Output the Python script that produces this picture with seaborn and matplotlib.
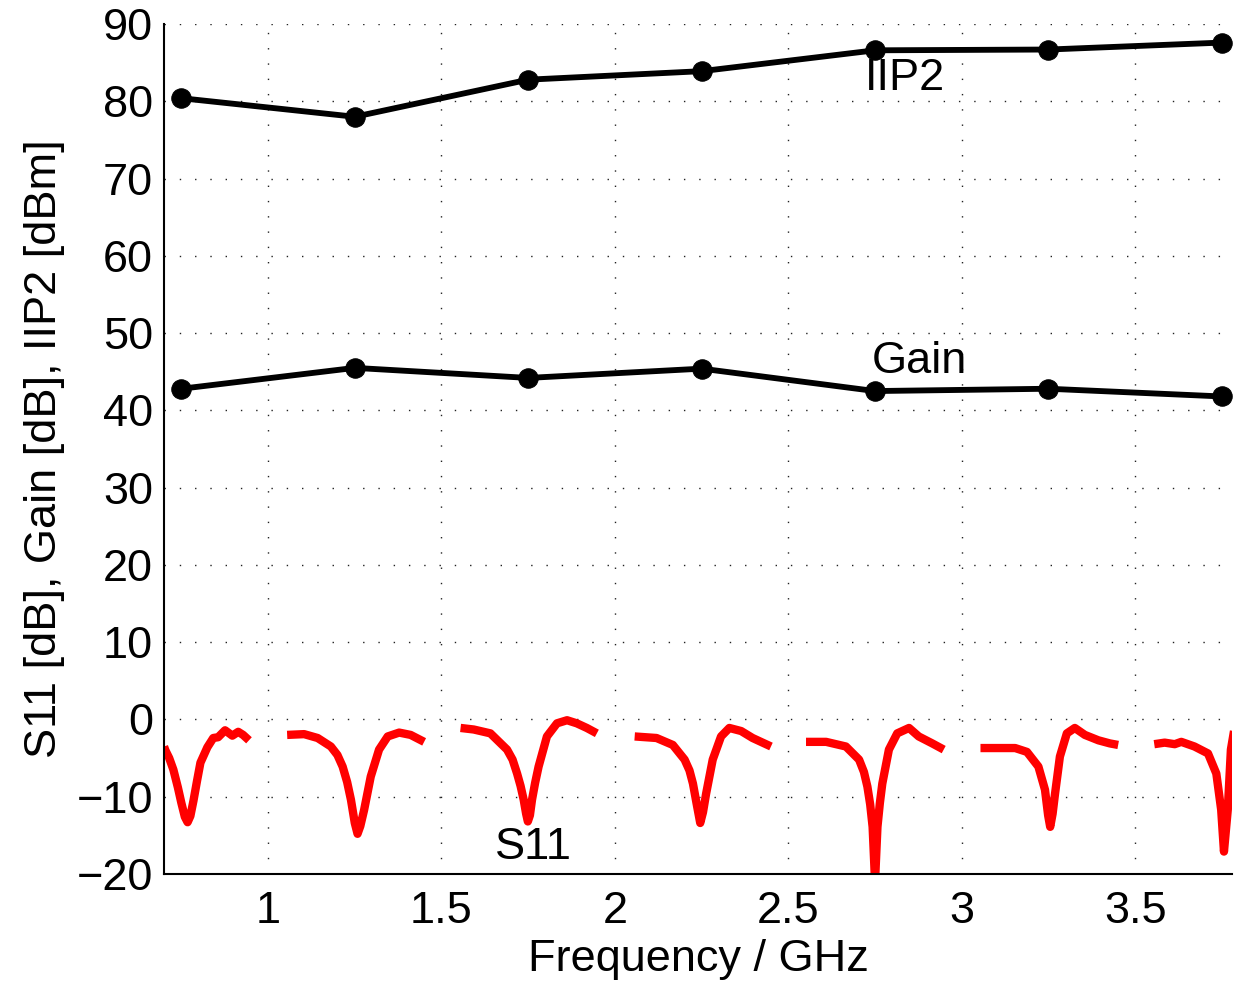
import matplotlib
matplotlib.use("Agg")
import matplotlib.pyplot as plt
import pandas as pd
import seaborn as sns

sns.set_style("white")
plt.rcParams['font.family'] = ['Liberation Sans', 'DejaVu Sans']
plt.rcParams['text.color'] = 'black'
plt.rcParams['axes.labelcolor'] = 'black'

# measured points (GHz)
freq_pts = [0.75, 1.25, 1.75, 2.25, 2.75, 3.25, 3.75]
iip2 = [80.4, 78.0, 82.8, 83.9, 86.6, 86.7, 87.6]
gain = [42.8, 45.5, 44.2, 45.4, 42.5, 42.8, 41.8]

# S11 sweeps, one per band (frequency in GHz, S11 in dB)
s11_f1 = [0.70, 0.704, 0.715, 0.727, 0.740, 0.750, 0.760, 0.768, 0.776, 0.785, 0.795, 0.805, 0.825, 0.842, 0.856, 0.876, 0.897, 0.914, 0.928, 0.945]
s11_v1 = [-3.5, -4.0, -5.0, -6.5, -8.8, -10.8, -12.6, -13.3, -12.5, -10.5, -8.0, -5.6, -3.6, -2.4, -2.3, -1.4, -2.1, -1.6, -2.0, -2.7]
s11_f2 = [1.055, 1.104, 1.143, 1.181, 1.200, 1.215, 1.228, 1.239, 1.250, 1.258, 1.266, 1.277, 1.296, 1.320, 1.345, 1.378, 1.411, 1.450]
s11_v2 = [-2.0, -1.9, -2.4, -3.5, -4.6, -6.1, -8.1, -10.4, -13.4, -14.8, -13.8, -11.7, -7.4, -3.9, -2.2, -1.7, -2.0, -2.9]
s11_f3 = [1.555, 1.593, 1.641, 1.689, 1.705, 1.718, 1.728, 1.737, 1.744, 1.749, 1.755, 1.761, 1.770, 1.780, 1.804, 1.833, 1.862, 1.890, 1.919, 1.948]
s11_v3 = [-1.1, -1.3, -1.8, -3.9, -5.2, -7.0, -8.6, -10.4, -12.2, -13.2, -12.4, -10.4, -8.2, -6.1, -2.2, -0.5, -0.1, -0.5, -1.1, -1.8]
s11_f4 = [2.057, 2.120, 2.167, 2.201, 2.215, 2.225, 2.236, 2.246, 2.254, 2.263, 2.282, 2.306, 2.330, 2.364, 2.397, 2.450]
s11_v4 = [-2.2, -2.4, -3.3, -5.2, -6.6, -8.3, -11.0, -13.4, -12.0, -9.6, -5.2, -2.2, -1.1, -1.5, -2.4, -3.5]
s11_f5 = [2.551, 2.609, 2.666, 2.704, 2.718, 2.728, 2.736, 2.743, 2.750, 2.757, 2.764, 2.771, 2.790, 2.814, 2.848, 2.876, 2.915, 2.948]
s11_v5 = [-2.9, -2.9, -3.5, -5.2, -6.8, -8.7, -11.0, -13.9, -21.0, -13.9, -10.8, -8.3, -3.9, -1.8, -1.1, -2.2, -3.1, -3.9]
s11_f6 = [3.054, 3.116, 3.154, 3.188, 3.221, 3.240, 3.249, 3.255, 3.262, 3.269, 3.283, 3.303, 3.326, 3.355, 3.394, 3.427, 3.451]
s11_v6 = [-3.7, -3.7, -3.7, -4.2, -6.1, -9.1, -12.4, -13.9, -12.2, -9.6, -4.8, -1.8, -1.1, -2.0, -2.7, -3.1, -3.3]
s11_f7 = [3.555, 3.585, 3.614, 3.633, 3.671, 3.710, 3.734, 3.748, 3.756, 3.767, 3.776, 3.785]
s11_v7 = [-3.2, -3.0, -3.2, -2.9, -3.5, -4.4, -7.0, -11.7, -17.1, -11.7, -3.9, -1.5]

s11_f = [s11_f1, s11_f2, s11_f3, s11_f4, s11_f5, s11_f6, s11_f7]
s11_v = [s11_v1, s11_v2, s11_v3, s11_v4, s11_v5, s11_v6, s11_v7]

pts = pd.DataFrame({"freq": freq_pts, "IIP2": iip2, "Gain": gain})
s11 = pd.concat([pd.DataFrame({"freq": f, "S11": v, "band": i})
                 for i, (f, v) in enumerate(zip(s11_f, s11_v))])

fig = plt.figure(figsize=(12.35, 9.85), dpi=100)
ax = fig.add_axes([0.1328, 0.1127, 0.8650, 0.8629])

sns.lineplot(data=s11, x="freq", y="S11", units="band", estimator=None,
             color="red", linewidth=6.0, sort=False, ax=ax,
             solid_joinstyle="round", solid_capstyle="butt")
for col in ["IIP2", "Gain"]:
    sns.lineplot(data=pts, x="freq", y=col, color="black", linewidth=4.2,
                 marker="o", markersize=14, markeredgecolor="black", ax=ax, clip_on=False)

ax.set_xlim(0.70, 3.78)
ax.set_ylim(-20, 90)
ax.set_xticks([1, 1.5, 2, 2.5, 3, 3.5])
ax.set_xticklabels(["1", "1.5", "2", "2.5", "3", "3.5"])
ax.set_yticks(range(-20, 91, 10))

ax.grid(True, color="#222222", linestyle=(0, (1, 10)), linewidth=1.0)
ax.spines["top"].set_visible(False)
ax.spines["right"].set_visible(False)
for s in ["left", "bottom"]:
    ax.spines[s].set_linewidth(1.5)
    ax.spines[s].set_color("black")
fs = 32.5
ax.tick_params(direction="in", length=9, width=1.5, labelsize=fs, colors="black")
ax.tick_params(axis="x", pad=12)
ax.tick_params(axis="y", pad=8)

ax.set_xlabel("Frequency / GHz", fontsize=fs, labelpad=5)
ax.set_ylabel("S11 [dB], Gain [dB], IIP2 [dBm]", fontsize=fs, labelpad=8)

ax.text(2.72, 83.0, "IIP2", fontsize=fs, va="center", ha="left")
ax.text(2.74, 46.3, "Gain", fontsize=fs, va="center", ha="left")
ax.text(1.655, -16.6, "S11", fontsize=fs, va="center", ha="left")

fig.savefig("out.png", dpi=100)
